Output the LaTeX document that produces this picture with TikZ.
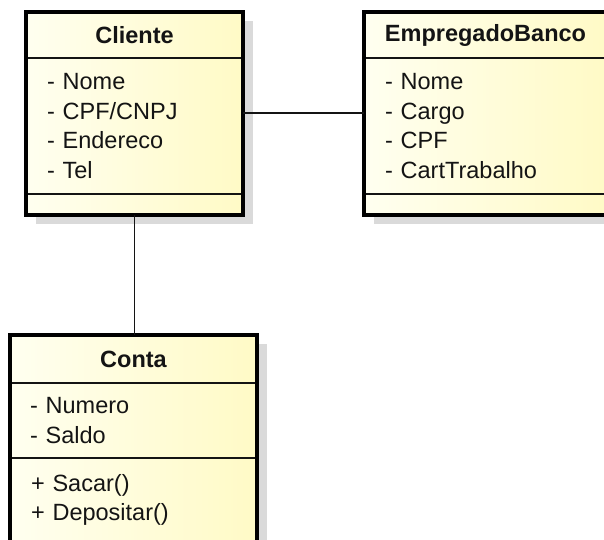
\documentclass[tikz,border=0pt]{standalone}
\usepackage{fontspec}
\setmainfont{Liberation Sans}
\usetikzlibrary{positioning,backgrounds}
\definecolor{creamA}{HTML}{FFFFF0}
\definecolor{creamB}{HTML}{FFFAC6}
\definecolor{shadowgray}{HTML}{DADADA}
\definecolor{ink}{HTML}{141414}
\begin{document}
\begin{tikzpicture}[x=1pt,y=1pt,
  every node/.style={inner sep=0pt,outer sep=0pt,text=ink,
    font=\fontsize{23.5}{29.5}\selectfont},
  classname/.style={draw=ink,line width=1.5pt,font=\fontsize{23.5}{29.5}\selectfont\bfseries},
  members/.style={draw=ink,line width=1.5pt,align=left,inner xsep=21pt},
  border/.style={draw=black,line width=3.5pt},
  link/.style={draw=ink,line width=1.6pt},
  linkshadow/.style={draw=shadowgray,line width=1.6pt}]
\useasboundingbox (0,0) rectangle (604,-539);
%Cliente
\node[classname,minimum width=217pt,minimum height=46pt] (cliente) at (134.5,-35) {Cliente};
\node[members,text width=175pt,minimum height=136pt,below=0pt of cliente] (cliente-attrs)
  {- Nome\\- CPF/CNPJ\\- Endereco\\- Tel};
\node[members,minimum width=217pt,minimum height=21pt,below=0pt of cliente-attrs] (cliente-ops) {};
%EmpregadoBanco
\node[classname,minimum width=243pt,minimum height=46pt] (empregado) at (485.5,-35) {EmpregadoBanco};
\node[members,text width=201pt,minimum height=136pt,below=0pt of empregado] (empregado-attrs)
  {- Nome\\- Cargo\\- CPF\\- CartTrabalho};
\node[members,minimum width=243pt,minimum height=21pt,below=0pt of empregado-attrs] (empregado-ops) {};
%Conta
\node[classname,minimum width=247pt,minimum height=48pt] (conta) at (133.5,-359) {Conta};
\node[members,text width=207pt,inner xsep=20pt,minimum height=75pt,below=0pt of conta] (conta-attrs)
  {- Numero\\- Saldo};
\node[members,text width=205pt,minimum height=84pt,below=0pt of conta-attrs] (conta-ops)
  {+ Sacar()\\+ Depositar()};
%shadows and fill
\begin{scope}[on background layer]
\foreach \nm in {cliente,empregado,conta} {
  \fill[shadowgray] ([shift={(10,-9)}]\nm.north west) rectangle ([shift={(10,-9)}]\nm-ops.south east);
  \shade[left color=creamA,right color=creamB] (\nm.north west) rectangle (\nm-ops.south east);
}
\draw[linkshadow,shift={(10,-11)}] ([yshift=13pt]cliente-attrs.east) -- ([yshift=13pt]empregado-attrs.west);
\draw[linkshadow,shift={(10,-11)}] (cliente-ops.south) -- (cliente-ops.south |- conta.north);
\end{scope}
\foreach \nm in {cliente,empregado,conta}
  \draw[border] (\nm.north west) rectangle (\nm-ops.south east);
%associations
\draw[link] ([yshift=13pt]cliente-attrs.east) -- ([yshift=13pt]empregado-attrs.west);
\draw[link] (cliente-ops.south) -- (cliente-ops.south |- conta.north);
\end{tikzpicture}
\end{document}
